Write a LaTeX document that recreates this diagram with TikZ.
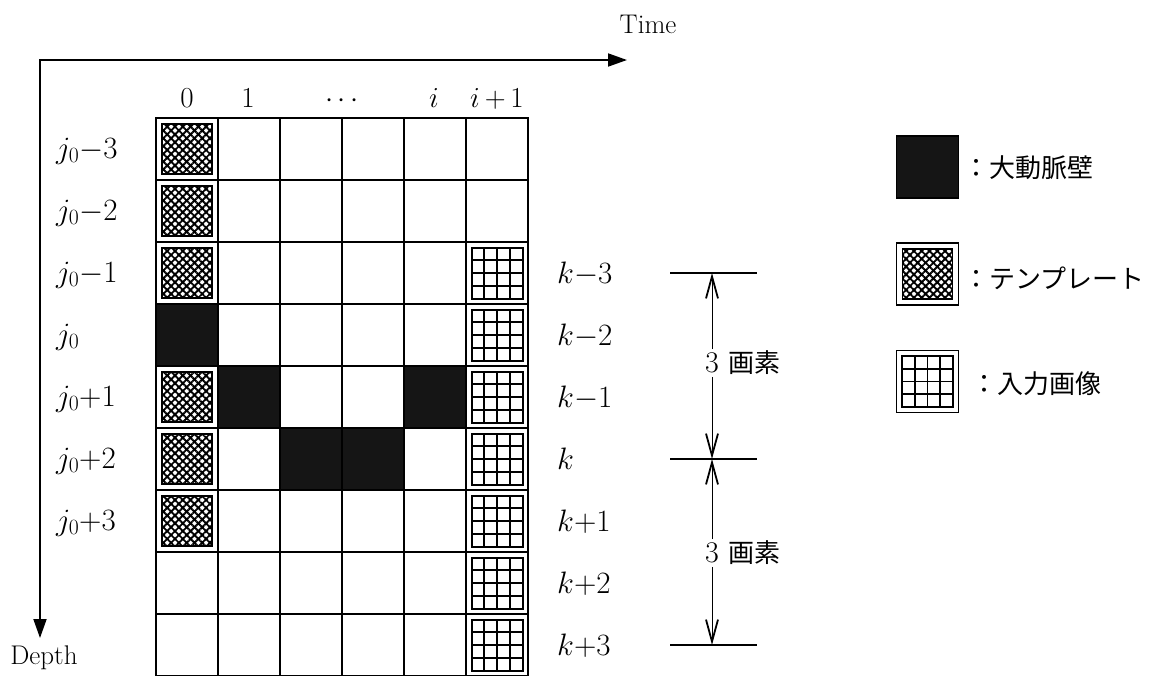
\RequirePackage{fix-cm}
\documentclass[tikz,border=0pt]{standalone}
\usepackage{fontspec}
\newfontfamily\jpfont{Noto Sans CJK JP}
\usetikzlibrary{arrows.meta,patterns.meta,calc}
\definecolor{wallblack}{RGB}{21,21,21}
\begin{document}
\begin{tikzpicture}[x=1pt,y=-1pt,
  cell/.style={draw,line width=1.4pt,minimum size=62pt,inner sep=0pt,outer sep=0pt,fill=white},
  wall/.style={cell,fill=wallblack},
  tmpl/.style={draw,line width=1.6pt,minimum size=50pt,inner sep=0pt,outer sep=0pt,
    pattern={Hatch[angle=45,distance=5.5pt,line width=1.9pt]}},
  inimg/.style={draw,line width=2pt,minimum size=51pt,inner sep=0pt,outer sep=0pt,fill=white,
    path picture={
      \foreach \t in {0.25,0.5,0.75}{
        \draw[line width=1.8pt] ($(path picture bounding box.north west)!\t!(path picture bounding box.north east)$) -- ($(path picture bounding box.south west)!\t!(path picture bounding box.south east)$);
        \draw[line width=1.8pt] ($(path picture bounding box.north west)!\t!(path picture bounding box.south west)$) -- ($(path picture bounding box.north east)!\t!(path picture bounding box.south east)$);
      }}},
  lab/.style={font=\fontsize{31}{36}\selectfont,inner sep=0pt},
  hlab/.style={font=\fontsize{29}{34}\selectfont,inner sep=0pt,anchor=base},
  axlab/.style={font=\fontsize{27}{32}\selectfont,inner sep=0pt,anchor=base},
  numlab/.style={font=\fontsize{30}{34}\selectfont,inner sep=4pt},
  jp/.style={font=\fontsize{26}{30}\selectfont\jpfont,inner sep=0pt},
  axis/.style={line width=1.8pt,{Triangle[length=19pt,width=13pt]}-{Triangle[length=19pt,width=13pt]}},
  dimline/.style={line width=1.8pt},
  dimarr/.style={line width=1pt,-{Straight Barb[length=22pt,width=12pt,line width=1.8pt]}}
]
\useasboundingbox (0,0) rectangle (1155,675);
\fill[white] (0,0) rectangle (1155,675);

% axes
\coordinate (origin) at (40,60);
\coordinate (timeend) at (627,60);
\coordinate (depthend) at (40,638);
\draw[axis] (timeend) -- (origin) -- (depthend);
\node[axlab] (time) at (648,33) {Time};
\node[axlab] (depth) at (44,664) {Depth};

% grid
\foreach \r in {0,...,8}
  \foreach \c in {0,...,5}
    \node[cell] (c\r-\c) at ({187+62*\c},{149+62*\r}) {};
\foreach \r/\c in {3/0,4/1,4/4,5/2,5/3}
  \node[wall] (w\r-\c) at (c\r-\c) {};
\foreach \r in {0,1,2,4,5,6}
  \node[tmpl] (t\r) at (c\r-0) {};
\foreach \r in {2,...,8}
  \node[inimg] (in\r) at (c\r-5) {};

% column headers
\node[hlab] (h0) at (187,107) {$0$};
\node[hlab] (h1) at (248,107) {$1$};
\node[hlab] (hd) at (342,107) {$\cdots$};
\node[hlab] (hi) at (434,107) {$i$};
\node[hlab] (hi1) at (497,107) {$i\mskip3mu{+}\mskip3mu1$};

% row labels
\node[lab,anchor=base west] (r0) at (56,158) {$j_0{-}3$};
\node[lab,anchor=base west] (r1) at (56,220) {$j_0{-}2$};
\node[lab,anchor=base west] (r2) at (56,282) {$j_0{-}1$};
\node[lab,anchor=base west] (r3) at (56,344) {$j_0$};
\node[lab,anchor=base west] (r4) at (56,406) {$j_0{+}1$};
\node[lab,anchor=base west] (r5) at (56,468) {$j_0{+}2$};
\node[lab,anchor=base west] (r6) at (56,530) {$j_0{+}3$};

% k labels
\node[lab,anchor=base west] (k2) at (557,283) {$k{-}3$};
\node[lab,anchor=base west] (k3) at (557,345) {$k{-}2$};
\node[lab,anchor=base west] (k4) at (557,407) {$k{-}1$};
\node[lab,anchor=base west] (k5) at (557,469) {$k$};
\node[lab,anchor=base west] (k6) at (557,531) {$k{+}1$};
\node[lab,anchor=base west] (k7) at (557,593) {$k{+}2$};
\node[lab,anchor=base west] (k8) at (557,655) {$k{+}3$};

% dimension lines
\coordinate (dl1) at (670,273); \coordinate (dr1) at (757,273); \coordinate (dc1) at (712,273);
\coordinate (dl2) at (670,459); \coordinate (dr2) at (757,459); \coordinate (dc2) at (712,459);
\coordinate (dl3) at (670,645); \coordinate (dr3) at (757,645); \coordinate (dc3) at (712,645);
\draw[dimline] (dl1) -- (dr1);
\draw[dimline] (dl2) -- (dr2);
\draw[dimline] (dl3) -- (dr3);
\node[numlab] (n1) at (712,363) {$3$};
\node[jp,anchor=west] (p1) at ([xshift=5pt]n1.east) {画素};
\node[numlab] (n2) at (712,553) {$3$};
\node[jp,anchor=west] (p2) at ([xshift=5pt]n2.east) {画素};
\draw[dimarr] (n1) -- (dc1);
\draw[dimarr] (n1) -- (dc2);
\draw[dimarr] (n2) -- (dc2);
\draw[dimarr] (n2) -- (dc3);

% legend
\node[wall] (lg1) at (927.5,167) {};
\node[jp,anchor=west] (lt1) at (963,168) {：大動脈壁};
\node[cell] (lg2) at (927.5,274) {};
\node[tmpl] (lg2i) at (lg2) {};
\node[jp,anchor=west] (lt2) at (963,278) {：テンプレート};
\node[cell] (lg3) at (927.5,381.5) {};
\node[inimg] (lg3i) at (lg3) {};
\node[jp,anchor=west] (lt3) at (971,384) {：入力画像};
\end{tikzpicture}
\end{document}
